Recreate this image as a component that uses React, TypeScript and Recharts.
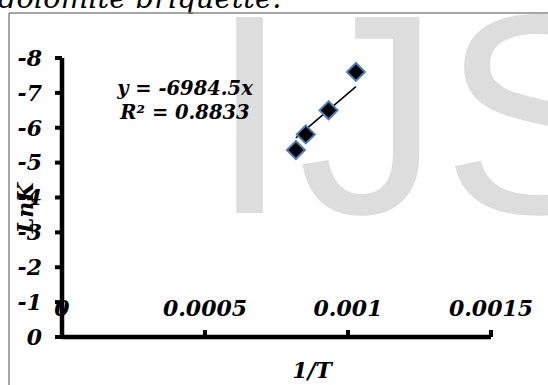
import React from 'react';
import {
  ScatterChart,
  Scatter,
  XAxis,
  YAxis,
  ReferenceLine,
} from 'recharts';

// 1/T (1/K) for the measured temperatures and the matching ln K values
const inverseTemp = [0.0010277, 0.000932, 0.0008525, 0.0008177];
const lnK = [-7.6, -6.5, -5.81, -5.36];

// fitted line through the origin: y = slope * x
const slope = -6984.5;
const rSquared = 0.8833;

const xTicks = [0, 0.0005, 0.001, 0.0015];
const xTickLabels = ['0', '0.0005', '0.001', '0.0015'];
const yTicks = [-8, -7, -6, -5, -4, -3, -2, -1, 0];
const yTickLabels = ['-8', '-7', '-6', '-5', '-4', '-3', '-2', '-1', '0'];

const points = inverseTemp.map((x, i) => ({ x, y: lnK[i] }));
const xMin = Math.min(...inverseTemp);
const xMax = Math.max(...inverseTemp);

const W = 548;
const H = 385;
const boldItalic = {
  fontFamily: '"DejaVu Serif", serif',
  fontWeight: 700,
  fontStyle: 'italic' as const,
};

const Diamond = (props: any) => {
  const { cx, cy } = props;
  const r = 9;
  return (
    <polygon
      points={`${cx},${cy - r} ${cx + r},${cy} ${cx},${cy + r} ${cx - r},${cy}`}
      fill="#000"
      stroke="#4a7ebb"
      strokeWidth={2}
    />
  );
};

export default function App() {
  return (
    <div
      style={{
        position: 'absolute',
        left: 0,
        top: 0,
        width: W,
        height: H,
        background: '#fff',
        overflow: 'hidden',
      }}
    >
      {/* backdrop: caption line, frame and watermark */}
      <svg
        width={W}
        height={H}
        style={{ position: 'absolute', left: 0, top: 0 }}
      >
        <defs>
          <clipPath id="frameClip">
            <rect x={10} y={14} width={W} height={H} />
          </clipPath>
        </defs>
        <text
          x={-2}
          y={8}
          fontFamily='"DejaVu Serif", serif'
          fontStyle="italic"
          fontSize={29}
          fill="#000"
        >
          dolomite briquette.
        </text>
        <g clipPath="url(#frameClip)" fill="#dddddd" fontFamily='"Liberation Sans", Arial, sans-serif' fontSize={285}>
          <text x={210} y={213}>I</text>
          <text x={298} y={213}>J</text>
          <text x={442} y={213}>S</text>
        </g>
        <line x1={9} y1={13} x2={W} y2={13} stroke="#888" strokeWidth={1.5} />
        <line x1={9} y1={13} x2={9} y2={H} stroke="#888" strokeWidth={1.5} />
      </svg>

      <div style={{ position: 'absolute', left: 0, top: 0 }}>
        <ScatterChart
          width={W}
          height={H}
          margin={{ top: 58, right: 57, bottom: 48, left: 0 }}
        >
          <XAxis
            type="number"
            dataKey="x"
            domain={[0, 0.0015]}
            ticks={xTicks}
            tickFormatter={(v: number) => xTickLabels[xTicks.indexOf(v)] ?? String(v)}
            mirror
            tickSize={7}
            tickMargin={14}
            axisLine={{ stroke: '#000', strokeWidth: 4.5 }}
            tickLine={{ stroke: '#000', strokeWidth: 4 }}
            tick={{ fill: '#000', fontSize: 22, ...boldItalic }}
            interval={0}
          />
          <YAxis
            type="number"
            dataKey="y"
            domain={[-8, 0]}
            ticks={yTicks}
            tickFormatter={(v: number) => yTickLabels[yTicks.indexOf(v)] ?? String(v)}
            reversed
            width={62}
            tickSize={7}
            tickMargin={13}
            axisLine={{ stroke: '#000', strokeWidth: 4.5 }}
            tickLine={{ stroke: '#000', strokeWidth: 4 }}
            tick={{ fill: '#000', fontSize: 22, ...boldItalic }}
            interval={0}
          />
          <ReferenceLine
            segment={[
              { x: xMin, y: slope * xMin },
              { x: xMax, y: slope * xMax },
            ]}
            stroke="#000"
            strokeWidth={1.5}
          />
          <Scatter
            data={points}
            shape={<Diamond />}
            isAnimationActive={false}
          />
        </ScatterChart>
      </div>

      {/* titles and fit annotation */}
      <svg
        width={W}
        height={H}
        style={{ position: 'absolute', left: 0, top: 0, pointerEvents: 'none' }}
      >
        <g fill="#000" fontSize={19.5} {...boldItalic}>
          <text x={185} y={95} textAnchor="middle">
            {`y = ${slope}x`}
          </text>
          <text x={185} y={119} textAnchor="middle">
            {`R² = ${rSquared}`}
          </text>
        </g>
        <text x={312} y={378} textAnchor="middle" fill="#000" fontSize={22} {...boldItalic}>
          1/T
        </text>
        <text
          x={33}
          y={208}
          textAnchor="middle"
          fill="#000"
          fontSize={22}
          transform="rotate(-90 33 208)"
          {...boldItalic}
        >
          LnK
        </text>
      </svg>
    </div>
  );
}
